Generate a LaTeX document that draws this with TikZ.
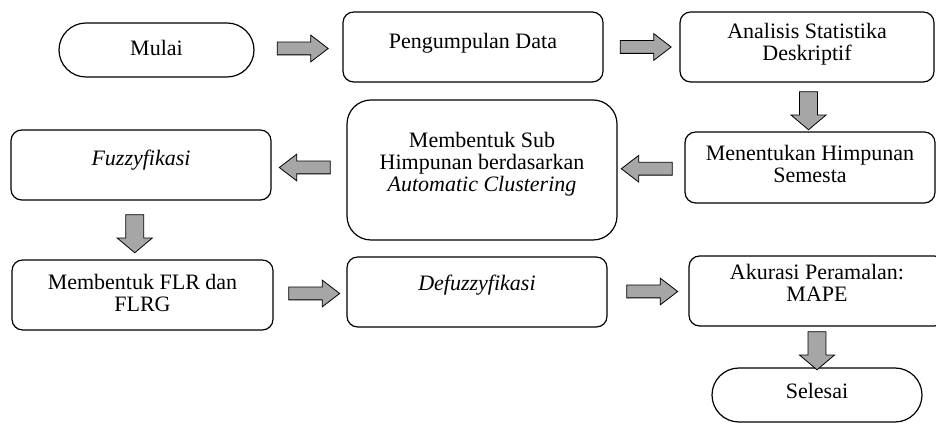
\documentclass[tikz,border=0pt]{standalone}
\usepackage{fontspec}
\setmainfont{Liberation Serif}
\usetikzlibrary{shapes.misc,shapes.arrows,calc}

\definecolor{abu}{RGB}{166,166,166}

\tikzset{
    kotak/.style = {draw, line width=0.9pt, rounded corners=8pt, align=center, inner sep=3pt,
        minimum width=195pt, minimum height=52.5pt, text depth=3.6pt},
    kapsul/.style = {draw, line width=0.9pt, rounded rectangle, inner sep=3pt,
        minimum width=152.25pt, minimum height=40.5pt, text depth=3.6pt},
    panah/.style = {single arrow, draw=black, fill=abu, line width=0.6pt, inner sep=4.5pt,
        minimum height=38.25pt, single arrow head extend=5.25pt, single arrow tip angle=75},
    panahbawah/.style = {panah, rotate=-90, inner sep=6.4pt, minimum height=28.5pt,
        single arrow head extend=6.4pt, single arrow tip angle=100},
    panahkiri/.style = {panah, rotate=180}
}

\begin{document}
\begin{tikzpicture}[x=0.75pt, y=-0.75pt, every node/.style={font=\fontsize{16.5}{16.5}\selectfont}]
    \useasboundingbox (0,0) rectangle (936,423);
    \clip (0,0) rectangle (936,423);

    % baris atas
    \node [kapsul] (mulai) at (156.5,50) {Mulai};
    \node [kotak, text depth=9.6pt] (kumpul) at (473,47) {Pengumpulan Data};
    \node [kotak, minimum width=190.5pt, text depth=8.1pt] (analisis) at (807,47) {Analisis Statistika\\Deskriptif};

    % baris tengah
    \node [kotak, minimum width=187.5pt, minimum height=53.25pt, text depth=5.85pt] (semesta) at (810,167.5) {Menentukan Himpunan\\Semesta};
    \node [kotak, rounded corners=18pt, minimum width=202.5pt, minimum height=105pt, text depth=12.6pt] (subhimp) at (482,170) {Membentuk Sub\\Himpunan berdasarkan\\\textit{Automatic Clustering}};
    \node [kotak, text depth=11.1pt] (fuzzy) at (141,165) {\textit{Fuzzyfikasi}};

    % baris bawah
    \node [kotak, minimum width=195.75pt] (flr) at (142.5,295) {Membentuk FLR dan\\FLRG};
    \node [kotak, text depth=14.1pt] (defuzzy) at (477,292) {\textit{Defuzzyfikasi}};
    \node [kotak, minimum width=192pt, text depth=12.6pt] (akurasi) at (817,291) {Akurasi Peramalan:\\MAPE};
    \node [kapsul, minimum width=163.5pt, text depth=6.6pt] (selesai) at (817,395) {Selesai};

    % panah blok di antara kotak
    \node [panah] (p1) at ($(mulai.east)!0.5!(kumpul.west)$) {};
    \node [panah] (p2) at ($(kumpul.east)!0.5!(analisis.west)$) {};
    \node [panahbawah] (p3) at ($(analisis.south)!0.5!(semesta.north)$) {};
    \node [panahkiri] (p4) at ($(semesta.west)!0.5!(subhimp.east)$) {};
    \node [panahkiri] (p5) at ($(subhimp.west)!0.5!(fuzzy.east)$) {};
    \node [panahbawah] (p6) at ($(fuzzy.south)!0.5!(flr.north)+(-7,0)$) {};
    \node [panah] (p7) at ($(flr.east)!0.5!(defuzzy.west)$) {};
    \node [panah] (p8) at ($(defuzzy.east)!0.5!(akurasi.west)$) {};
    \node [panahbawah] (p9) at ($(akurasi.south)!0.5!(selesai.north)$) {};
\end{tikzpicture}
\end{document}
